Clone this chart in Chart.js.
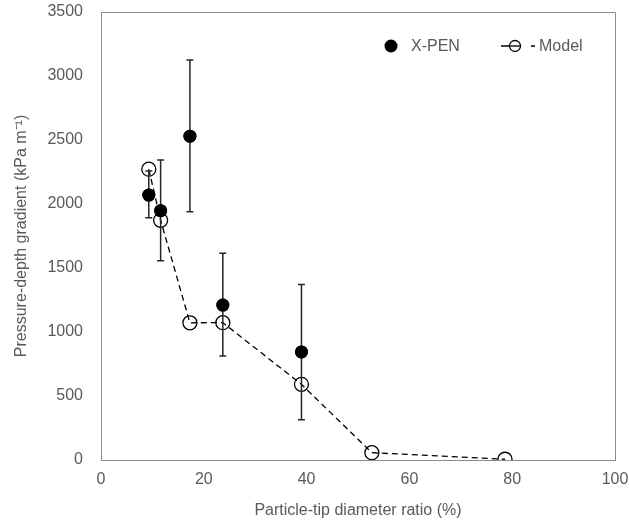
<!DOCTYPE html>
<html>
<head>
<meta charset="utf-8">
<script src="https://cdn.jsdelivr.net/npm/chart.js@4/dist/chart.umd.min.js"></script>
<style>
  html, body { margin: 0; padding: 0; background: #fff; }
  #wrap { width: 629px; height: 524px; position: relative; }
</style>
</head>
<body>
<div id="wrap"><canvas id="myChart"></canvas></div>
<script>
// data
const xpenRatio = [9.3, 11.6, 17.3, 23.7, 39.0];
const xpenGradient = [2070, 1948, 2530, 1210, 844];
const xpenUpper = [2258, 2344, 3125, 1615, 1372];
const xpenLower = [1893, 1557, 1940, 812, 315];

const modelRatio = [9.3, 11.6, 17.3, 23.7, 39.0, 52.7, 78.6];
const modelGradient = [2272, 1873, 1072, 1073, 591, 57, 6];

const xTicks = [0, 20, 40, 60, 80, 100];
const yTicks = [0, 500, 1000, 1500, 2000, 2500, 3000, 3500];

const textColor = "#595959";
const axisColor = "#8c8c8c";
const fontFamily = "'Liberation Sans', Arial, sans-serif";

// error bars, box and legend drawn on the canvas
const extrasPlugin = {
  id: "extras",
  afterDatasetsDraw(chart) {
    const ctx = chart.ctx;
    const xs = chart.scales.x;
    const ys = chart.scales.y;
    ctx.save();
    ctx.strokeStyle = "#262626";
    ctx.lineWidth = 1.5;
    for (let i = 0; i < xpenRatio.length; i++) {
      let px = xs.getPixelForValue(xpenRatio[i]);
      let top = ys.getPixelForValue(xpenUpper[i]);
      let bot = ys.getPixelForValue(xpenLower[i]);
      ctx.beginPath();
      ctx.moveTo(px, top);
      ctx.lineTo(px, bot);
      ctx.moveTo(px - 3.5, top);
      ctx.lineTo(px + 3.5, top);
      ctx.moveTo(px - 3.5, bot);
      ctx.lineTo(px + 3.5, bot);
      ctx.stroke();
    }
    // filled points again so they sit on top of the bars
    ctx.fillStyle = "#000";
    for (let i = 0; i < xpenRatio.length; i++) {
      ctx.beginPath();
      ctx.arc(xs.getPixelForValue(xpenRatio[i]), ys.getPixelForValue(xpenGradient[i]), 6.5, 0, Math.PI * 2);
      ctx.fill();
    }
    ctx.restore();
  },
  afterDraw(chart) {
    const ctx = chart.ctx;
    const a = chart.chartArea;
    ctx.save();
    // top and right frame lines
    ctx.strokeStyle = axisColor;
    ctx.lineWidth = 1;
    ctx.beginPath();
    ctx.moveTo(a.left, a.top + 0.5);
    ctx.lineTo(a.right + 0.5, a.top + 0.5);
    ctx.lineTo(a.right + 0.5, a.bottom);
    ctx.stroke();

    // legend
    const ly = 46;
    ctx.fillStyle = "#000";
    ctx.beginPath();
    ctx.arc(391, ly, 6.5, 0, Math.PI * 2);
    ctx.fill();
    ctx.font = "16px " + fontFamily;
    ctx.fillStyle = textColor;
    ctx.textBaseline = "middle";
    ctx.fillText("X-PEN", 411, ly + 1);

    ctx.strokeStyle = "#000";
    ctx.lineWidth = 1.3;
    ctx.beginPath();
    ctx.moveTo(501, ly);
    ctx.lineTo(509, ly);
    ctx.moveTo(531, ly);
    ctx.lineTo(535, ly);
    ctx.stroke();
    ctx.beginPath();
    ctx.arc(515, ly, 5.5, 0, Math.PI * 2);
    ctx.stroke();
    ctx.beginPath();
    ctx.moveTo(509.5, ly);
    ctx.lineTo(520.5, ly);
    ctx.stroke();
    ctx.fillStyle = textColor;
    ctx.fillText("Model", 539, ly + 1);
    ctx.restore();
  }
};

const data = {
  datasets: [
    {
      label: "X-PEN",
      data: xpenRatio.map((x, i) => ({ x: x, y: xpenGradient[i] })),
      showLine: false,
      pointRadius: 6.5,
      pointBackgroundColor: "#000",
      pointBorderColor: "#000",
      pointBorderWidth: 0,
      order: 1
    },
    {
      label: "Model",
      data: modelRatio.map((x, i) => ({ x: x, y: modelGradient[i] })),
      showLine: true,
      borderColor: "#000",
      borderWidth: 1.3,
      borderDash: [6, 4],
      pointRadius: 7,
      pointBackgroundColor: "rgba(0,0,0,0)",
      pointBorderColor: "#000",
      pointBorderWidth: 1.3,
      order: 2
    }
  ]
};

const config = {
  type: "scatter",
  data: data,
  options: {
    responsive: true,
    maintainAspectRatio: false,
    animation: false,
    events: [],
    layout: { padding: 0 },
    plugins: {
      legend: { display: false },
      tooltip: { enabled: false }
    },
    scales: {
      x: {
        type: "linear",
        min: 0,
        max: 100,
        afterBuildTicks: scale => { scale.ticks = xTicks.map(v => ({ value: v })); },
        afterFit: scale => {
          scale.height = 64;
          scale.paddingRight = 14;
          scale.paddingLeft = 10;
        },
        grid: { display: false, drawTicks: false },
        border: { display: true, color: axisColor, width: 1 },
        ticks: { color: textColor, padding: 10, font: { size: 16, family: fontFamily }, callback: v => String(v) },
        title: {
          display: true,
          text: "Particle-tip diameter ratio (%)",
          color: textColor,
          font: { size: 16, family: fontFamily },
          padding: { top: 8, bottom: 4 }
        }
      },
      y: {
        type: "linear",
        min: 0,
        max: 3500,
        afterBuildTicks: scale => { scale.ticks = yTicks.map(v => ({ value: v })); },
        afterFit: scale => {
          scale.width = 101;
          scale.paddingTop = 12;
          scale.paddingBottom = 10;
        },
        grid: { display: false, drawTicks: false },
        border: { display: true, color: axisColor, width: 1 },
        ticks: { color: textColor, padding: 18, font: { size: 16, family: fontFamily }, callback: v => String(v) },
        title: {
          display: true,
          text: "Pressure-depth gradient (kPa m\u207B\u00B9)",
          color: textColor,
          font: { size: 16, family: fontFamily },
          padding: { top: 12, bottom: 4 }
        }
      }
    }
  },
  plugins: [extrasPlugin]
};

const myChart = new Chart(document.getElementById("myChart"), config);
</script>
</body>
</html>
